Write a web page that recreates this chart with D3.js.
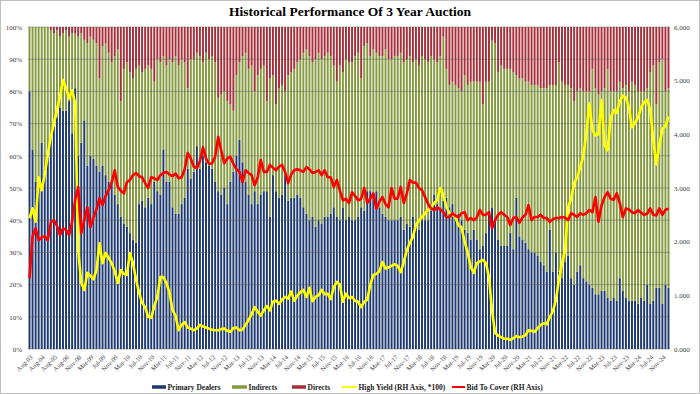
<!DOCTYPE html>
<html>
<head>
<meta charset="utf-8">
<script src="https://cdn.jsdelivr.net/npm/d3@7/dist/d3.min.js"></script>
<style>
  body { margin: 0; background: #fff; }
  text { font-family: "Liberation Serif", "Times New Roman", serif; }
</style>
</head>
<body>
<script>
// 3y auctions: quarterly Aug-03..May-07, then monthly Nov-08..Jan-25
const quarterlyDates = ["2003-08","2003-11","2004-02","2004-05","2004-08","2004-11","2005-02","2005-05",
  "2005-08","2005-11","2006-02","2006-05","2006-08","2006-11","2007-02","2007-05"];
const monthlyFrom = new Date(2008, 10, 1), monthlyTo = new Date(2025, 1, 1);

// % of allotment
const primaryDealers = [
  80, 62, 52, 50, 64, 56, 60, 66, 69, 72, 75, 74, 74, 77, 67, 81,
  60, 64, 71, 57, 60, 59, 57, 55, 57, 54,
  52, 52, 48, 45, 41, 39, 38, 36, 34, 33,
  45, 46, 44, 47, 45, 52, 49, 48, 62, 52,
  52, 44, 42, 42, 45, 47, 56, 53, 55, 63,
  56, 60, 58, 57, 56, 52, 49, 48, 50, 45,
  52, 55, 60, 65, 58, 52, 48, 45, 49, 45,
  48, 49, 49, 41, 54, 49, 47, 48, 54, 46,
  47, 47, 48, 47, 44, 42, 40, 41, 38, 40,
  39, 41, 41, 42, 44, 41, 40, 44, 40, 41,
  40, 40, 41, 44, 43, 49, 49, 48, 49, 44,
  42, 41, 40, 40, 40, 40, 41, 37, 39, 38,
  41, 39, 37, 40, 40, 40, 43, 48, 45, 44,
  46, 47, 44, 45, 42, 42, 40, 37, 36, 34,
  37, 34, 31, 32, 36, 43, 44, 40, 34, 32,
  32, 32, 36, 31, 47, 35, 34, 33, 31, 30,
  30, 29, 27, 26, 24, 37, 24, 30, 24, 22,
  27, 29, 22, 20, 24, 26, 22, 21, 20, 19,
  17, 17, 18, 18, 16, 15, 16, 15, 22, 18,
  16, 15, 15, 15, 14, 16, 15, 20, 14, 15,
  19, 19, 14, 20, 19
];
const indirects = [
  20, 38, 48, 50, 36, 44, 40, 33, 29, 27, 22, 24, 25, 20, 31, 17,
  37, 34, 25, 38, 37, 37, 38, 29, 37, 41,
  40, 37, 43, 48, 36, 48, 51, 50, 50, 54,
  43, 40, 43, 41, 42, 31, 41, 41, 29, 36,
  38, 45, 49, 46, 45, 42, 25, 37, 35, 29,
  35, 29, 34, 33, 35, 37, 29, 31, 30, 32,
  24, 19, 25, 24, 33, 40, 39, 43, 31, 40,
  39, 39, 28, 43, 31, 27, 34, 34, 26, 39,
  39, 40, 41, 43, 48, 51, 51, 48, 52, 52,
  51, 50, 51, 49, 44, 42, 48, 42, 50, 48,
  49, 51, 51, 40, 51, 46, 42, 45, 43, 47,
  49, 52, 50, 50, 51, 51, 51, 52, 51, 53,
  48, 51, 51, 51, 50, 49, 48, 42, 44, 47,
  51, 40, 38, 38, 40, 39, 40, 48, 46, 49,
  46, 49, 52, 44, 47, 40, 52, 55, 52, 56,
  55, 55, 51, 55, 38, 49, 50, 50, 52, 52,
  52, 53, 54, 55, 57, 45, 58, 52, 65, 61,
  55, 53, 59, 57, 56, 55, 58, 59, 60, 68,
  64, 62, 62, 63, 71, 65, 64, 65, 61, 63,
  66, 65, 68, 67, 66, 64, 65, 61, 72, 73,
  57, 70, 76, 60, 62
];
const directs = [
  0, 0, 0, 0, 0, 0, 0, 1, 2, 1, 3, 2, 1, 3, 2, 2,
  3, 2, 4, 5, 3, 4, 5, 16, 6, 5,
  8, 11, 9, 7, 23, 13, 11, 14, 16, 13,
  12, 14, 13, 12, 13, 17, 10, 11, 9, 12,
  10, 11, 9, 12, 10, 11, 19, 10, 10, 8,
  9, 11, 8, 10, 9, 11, 22, 21, 20, 23,
  24, 26, 15, 11, 9, 8, 13, 12, 20, 15,
  13, 12, 23, 16, 15, 24, 19, 18, 20, 15,
  14, 13, 11, 10, 8, 7, 9, 11, 10, 8,
  10, 9, 8, 9, 12, 17, 12, 14, 10, 11,
  11, 9, 8, 16, 6, 5, 9, 7, 8, 9,
  9, 7, 10, 10, 9, 9, 8, 11, 10, 9,
  11, 10, 12, 9, 10, 11, 9, 10, 11, 9,
  3, 13, 18, 17, 18, 19, 20, 15, 18, 17,
  17, 17, 17, 24, 17, 17, 4, 5, 14, 12,
  13, 13, 13, 14, 15, 16, 16, 17, 17, 18,
  18, 18, 19, 19, 19, 18, 18, 18, 11, 17,
  18, 18, 19, 23, 20, 19, 20, 20, 20, 13,
  19, 21, 20, 19, 13, 20, 20, 20, 17, 19,
  18, 20, 17, 18, 20, 20, 20, 19, 14, 12,
  24, 11, 10, 20, 19
];

// high yield in %, plotted on the right axis
const highYield = [
  2.44, 2.62, 2.37, 3.20, 2.96, 3.25, 3.62, 3.95, 4.20, 4.45, 4.70, 5.01, 4.86, 4.67, 4.82, 4.58,
  1.84, 1.23,
  1.10, 1.42, 1.36, 1.30, 1.47, 1.97, 1.60, 1.79, 1.70, 1.60, 1.45, 1.23,
  1.47, 1.40, 1.38, 1.79, 1.60, 1.30, 1.05, 0.86, 0.78, 0.60, 0.58, 0.80,
  0.97, 1.34, 1.34, 1.23, 1.05, 0.73, 0.62, 0.35, 0.45, 0.50, 0.40, 0.38,
  0.35, 0.38, 0.45, 0.42, 0.40, 0.38, 0.36, 0.35, 0.35, 0.37, 0.38, 0.34,
  0.32, 0.39, 0.40, 0.35, 0.36, 0.45, 0.54, 0.65, 0.78, 0.70, 0.62, 0.72,
  0.80, 0.72, 0.88, 0.90, 0.84, 0.92, 0.97, 0.94, 1.07, 0.90, 0.99, 1.06,
  1.10, 0.97, 1.14, 0.89, 0.97, 1.00, 1.10, 1.02, 1.03, 0.93, 1.15, 1.25,
  1.20, 0.88, 1.03, 0.95, 0.97, 0.90, 0.88, 0.78, 0.88, 0.92, 1.20, 1.38,
  1.40, 1.45, 1.62, 1.50, 1.52, 1.55, 1.58, 1.55, 1.43, 1.62, 1.84, 1.98,
  2.09, 2.31, 2.40, 2.46, 2.53, 2.60, 2.64, 2.72, 2.78, 3.00, 2.87, 2.65,
  2.53, 2.50, 2.46, 2.30, 2.27, 2.00, 1.80, 1.53, 1.42, 1.60, 1.63, 1.66,
  1.60, 1.34, 0.73, 0.30, 0.25, 0.22, 0.19, 0.19, 0.17, 0.20, 0.24, 0.22,
  0.23, 0.26, 0.35, 0.34, 0.32, 0.39, 0.45, 0.48, 0.46, 0.60, 0.70, 0.91,
  1.30, 1.60, 1.84, 2.64, 2.80, 3.09, 3.20, 3.39, 3.60, 4.02, 4.58, 4.08,
  3.98, 4.00, 4.64, 3.80, 3.70, 4.30, 4.45, 4.40, 4.62, 4.72, 4.69, 4.50,
  4.13, 4.21, 4.32, 4.50, 4.60, 4.64, 4.45, 3.90, 3.44, 3.80, 4.10, 4.15,
  4.33
];
const bidToCover = [
  1.32, 2.10, 2.25, 2.03, 2.08, 2.10, 2.03, 2.36, 2.40, 2.30, 2.12, 2.25, 2.22, 2.12, 2.37, 2.78,
  3.02, 2.16,
  2.40, 2.64, 2.27, 2.45, 2.60, 2.81, 2.68, 2.85, 2.96, 3.10, 3.33, 3.02,
  2.95, 2.90, 3.11, 3.15, 3.24, 3.28, 3.22, 3.20, 3.09, 3.00, 3.20, 3.18,
  3.15, 3.24, 3.28, 3.30, 3.25, 3.22, 3.27, 3.18, 3.20, 3.35, 3.65, 3.55,
  3.40, 3.37, 3.50, 3.76, 3.55, 3.45, 3.46, 3.58, 3.95, 3.70, 3.46, 3.55,
  3.58, 3.45, 3.35, 3.30, 3.11, 3.33, 3.28, 3.24, 3.05, 3.20, 3.52, 3.30,
  3.30, 3.43, 3.38, 3.33, 3.40, 3.43, 3.30, 3.09, 3.25, 3.33, 3.35, 3.33,
  3.30, 3.39, 3.35, 3.28, 3.30, 3.33, 3.24, 3.33, 3.20, 3.20, 3.02, 3.15,
  2.95, 2.77, 2.80, 2.72, 2.92, 2.85, 2.77, 2.80, 3.00, 2.72, 2.80, 2.90,
  2.62, 2.75, 2.83, 2.70, 2.64, 3.00, 2.80, 2.80, 3.02, 2.72, 2.90, 3.15,
  3.10, 3.10, 3.00, 2.96, 2.83, 2.70, 2.62, 2.59, 2.64, 2.60, 2.55, 2.46,
  2.46, 2.53, 2.48, 2.46, 2.53, 2.55, 2.40, 2.44, 2.40, 2.45, 2.59, 2.50,
  2.50, 2.55, 2.25, 2.40, 2.50, 2.55, 2.50, 2.46, 2.31, 2.44, 2.46, 2.35,
  2.45, 2.50, 2.68, 2.40, 2.46, 2.46, 2.50, 2.44, 2.44, 2.37, 2.42, 2.44,
  2.44, 2.46, 2.45, 2.40, 2.53, 2.50, 2.46, 2.53, 2.50, 2.53, 2.59, 2.55,
  2.83, 2.37, 2.68, 2.83, 2.92, 2.80, 2.78, 2.90, 2.72, 2.46, 2.62, 2.60,
  2.55, 2.53, 2.59, 2.54, 2.50, 2.52, 2.62, 2.50, 2.49, 2.62, 2.50, 2.59,
  2.62
];

const leftTicks = [0, 0.1, 0.2, 0.3, 0.4, 0.5, 0.6, 0.7, 0.8, 0.9, 1];
const rightTicks = [0, 1, 2, 3, 4, 5, 6];

const colors = { pd: "#1d3970", ind: "#85993f", dir: "#a62f3a", hy: "#ffff00", btc: "#ff0000" };

const dates = quarterlyDates.map(d3.timeParse("%Y-%m"))
  .concat(d3.timeMonth.range(monthlyFrom, monthlyTo));
const rows = dates.map((d, i) => ({ i, pd: primaryDealers[i], ind: indirects[i], dir: directs[i] }));

const W = 700, H = 394;
const plot = { left: 28, right: 670, top: 27, bottom: 349 };

const svg = d3.select("body").append("svg").attr("width", W).attr("height", H);
svg.append("rect").attr("x", 0.5).attr("y", 0.5).attr("width", W - 1).attr("height", H - 1)
  .attr("fill", "#fff").attr("stroke", "#bfbfbf");

const x = d3.scaleBand().domain(d3.range(dates.length)).range([plot.left, plot.right])
  .paddingInner(0.36).paddingOuter(0.18);
const yL = d3.scaleLinear().domain([0, 1]).range([plot.bottom, plot.top]);
const yR = d3.scaleLinear().domain([0, 6]).range([plot.bottom, plot.top]);
const cx = i => x(i) + x.bandwidth() / 2;

// stacked 100% bars
const series = d3.stack().keys(["pd", "ind", "dir"]).offset(d3.stackOffsetExpand)(rows);
svg.append("g").selectAll("g").data(series).join("g")
  .attr("fill", s => colors[s.key])
  .selectAll("rect").data(s => s).join("rect")
  .attr("x", d => x(d.data.i))
  .attr("width", x.bandwidth())
  .attr("y", d => yL(d[1]))
  .attr("height", d => yL(d[0]) - yL(d[1]));

// gridlines
svg.append("g").selectAll("line").data(leftTicks).join("line")
  .attr("x1", plot.left).attr("x2", plot.right)
  .attr("y1", d => yL(d)).attr("y2", d => yL(d))
  .attr("stroke", "#555").attr("stroke-opacity", 0.55).attr("stroke-width", 0.8);

// lines
const line = d3.line().x((d, i) => cx(i));
svg.append("path").datum(highYield)
  .attr("d", line.y(d => yR(d)))
  .attr("fill", "none").attr("stroke", colors.hy).attr("stroke-width", 2.6).attr("stroke-linejoin", "round");
svg.append("path").datum(bidToCover)
  .attr("d", line.y(d => yR(d)))
  .attr("fill", "none").attr("stroke", colors.btc).attr("stroke-width", 2.6).attr("stroke-linejoin", "round");

// axes
const styleAxis = g => {
  g.select(".domain").remove();
  g.selectAll("text").attr("fill", "#404040").style("font-size", "7px");
};
svg.append("g").attr("transform", `translate(${plot.left},0)`)
  .call(d3.axisLeft(yL).tickValues(leftTicks).tickFormat(d3.format(".0%")).tickSize(0).tickPadding(6))
  .call(styleAxis);
svg.append("g").attr("transform", `translate(${plot.right},0)`)
  .call(d3.axisRight(yR).tickValues(rightTicks).tickFormat(d3.format(".3f")).tickSize(0).tickPadding(4))
  .call(styleAxis);

const fmt = d3.timeFormat("%b-%y");
const xAxis = svg.append("g").attr("transform", `translate(0,${plot.bottom})`)
  .call(d3.axisBottom(x).tickValues(d3.range(0, dates.length, 4)).tickFormat(i => fmt(dates[i])).tickSize(0))
  .call(styleAxis);
xAxis.selectAll("text")
  .attr("x", 0).attr("y", 0).attr("dy", "0.35em")
  .attr("text-anchor", "end")
  .attr("transform", "translate(2,7) rotate(-45)")
  .style("font-size", "6.5px");

// title
svg.append("text").attr("x", 350).attr("y", 16).attr("text-anchor", "middle")
  .style("font-size", "13.5px").style("font-weight", "bold").attr("fill", "#000")
  .text("Historical Performance Of 3 Year Auction");

// legend
const legend = [
  { label: "Primary Dealers", color: colors.pd, x: 152, w: 14, h: 3.5 },
  { label: "Indirects", color: colors.ind, x: 232, w: 15, h: 3.5 },
  { label: "Directs", color: colors.dir, x: 292, w: 14, h: 3.5 },
  { label: "High Yield (RH Axis, *100)", color: colors.hy, x: 342, w: 15, h: 2 },
  { label: "Bid To Cover (RH Axis)", color: colors.btc, x: 452, w: 13, h: 2 }
];
const lg = svg.append("g").selectAll("g").data(legend).join("g")
  .attr("transform", d => `translate(${d.x},387)`);
lg.append("rect").attr("x", 0).attr("y", d => -d.h / 2).attr("width", d => d.w).attr("height", d => d.h)
  .attr("fill", d => d.color);
lg.append("text").attr("x", d => d.w + 1.5).attr("dy", "0.35em")
  .style("font-size", "7.5px").style("font-weight", "bold").attr("fill", "#222")
  .text(d => d.label);
</script>
</body>
</html>
